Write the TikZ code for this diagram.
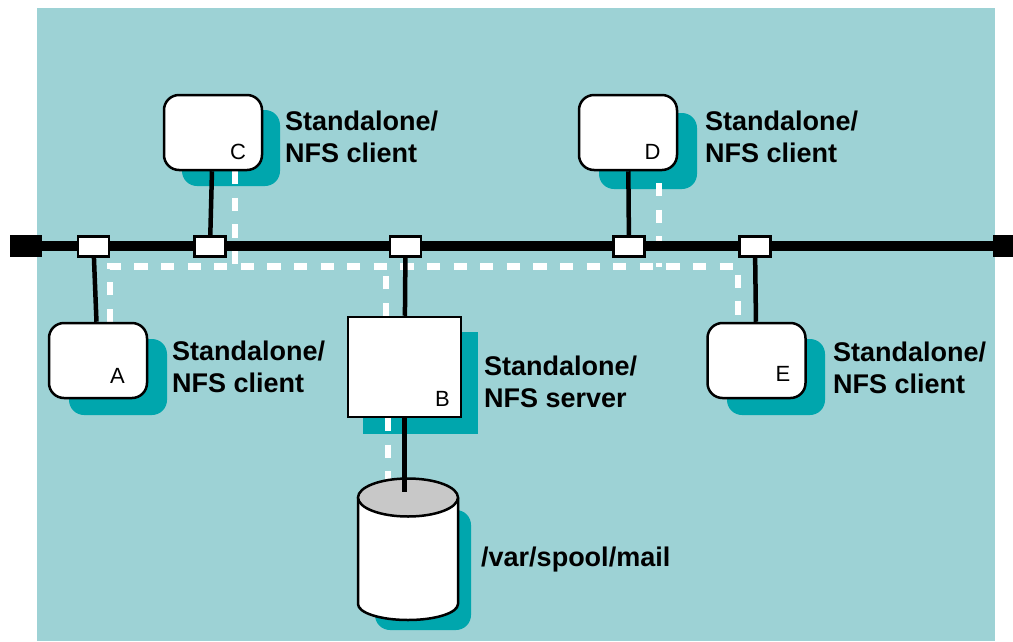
\documentclass[tikz,border=0pt]{standalone}
\usepackage{fontspec}
\setmainfont{Liberation Sans}
\usetikzlibrary{positioning}

\definecolor{seafoam}{HTML}{9DD2D5}
\definecolor{shadowteal}{HTML}{00A6AD}
\definecolor{platter}{HTML}{C8C8C8}

\tikzset{
  host/.style={draw,line width=2.5pt,fill=white,rounded corners=15pt,minimum width=98pt,minimum height=75pt,inner sep=0pt},
  hostshadow/.style={fill=shadowteal,rounded corners=15pt,minimum width=98pt,minimum height=76pt,inner sep=0pt},
  tap/.style={draw,line width=2.5pt,fill=white,minimum width=31pt,minimum height=20pt,inner sep=0pt},
  stub/.style={draw,line width=4.5pt},
  nfslink/.style={draw=white,line width=6.5pt,dash pattern=on 13.3pt off 13.3pt},
  caption/.style={font=\bfseries\fontsize{27}{32}\selectfont,align=left,anchor=west,inner sep=0pt},
  letter/.style={font=\fontsize{22}{22}\selectfont,inner sep=0pt}
}

\begin{document}
\begin{tikzpicture}[x=1pt,y=-1pt]

  \useasboundingbox (0,0) rectangle (1013,641);
  \fill[seafoam] (37,8) rectangle (995,641);

  % shadows
  \begin{scope}[every node/.style={hostshadow}]
    \node (shA) at (118,377) {};
    \node (shC) at (231,148) {};
    \node (shD) at (648,151) {};
    \node (shE) at (776,377) {};
  \end{scope}
  \node[fill=shadowteal,minimum width=115pt,minimum height=102pt,inner sep=0pt] (shB) at (420.5,383) {};
  \fill[shadowteal,rounded corners=15pt] (375,510) rectangle (471,630);

  % nfs traffic
  \coordinate (wa) at (110,322);
  \coordinate (wc) at (235,171);
  \coordinate (wd) at (659,183);
  \coordinate (we) at (738,322);
  \coordinate (wb) at (386,316);
  \coordinate (wb2) at (388,418);
  \coordinate (wm) at (388,487);
  \path[nfslink] (wa) -- (110,266.5) -- (738,266.5) -- (we);
  \path[nfslink] (wc) -- (235,266.5);
  \path[nfslink] (wd) -- (659,266.5);
  \path[nfslink] (wb) -- (386,266.5);

  % bus
  \node[fill=black,minimum width=32pt,minimum height=22pt,inner sep=0pt] (termL) at (26,246) {};
  \node[fill=black,minimum width=20pt,minimum height=22pt,inner sep=0pt] (termR) at (1003,246) {};
  \draw[line width=10pt] (termL) -- (termR);

  \begin{scope}[every node/.style={tap}]
    \node (tapA) at (93.5,246.5) {};
    \node (tapC) at (210,246.5) {};
    \node (tapB) at (405.5,246.5) {};
    \node (tapD) at (629,246.5) {};
    \node (tapE) at (755,246.5) {};
  \end{scope}

  % hosts
  \begin{scope}[every node/.style={host}]
    \node (A) at (98,360.5) {};
    \node (C) at (213,132.5) {};
    \node (D) at (628,132.5) {};
    \node (E) at (756.5,360.5) {};
  \end{scope}
  \node[draw,line width=2.5pt,fill=white,minimum width=113pt,minimum height=100pt,inner sep=0pt] (B) at (404.5,367) {};

  \path[stub] (tapA) -- (A);
  \path[stub] (tapC) -- (C);
  \path[stub] (tapD) -- (D);
  \path[stub] (tapE) -- (E);
  \path[stub] (tapB) -- (B);

  \path[nfslink] (wb2) -- (wm);

  % disk
  \draw[line width=2.5pt,fill=white] (358,497.5) -- (358,604) arc[start angle=180,end angle=360,x radius=50,y radius=-16] -- (458,497.5);
  \draw[line width=2.5pt,fill=platter] (408,497.5) ellipse[x radius=50,y radius=19];
  \node[inner sep=0pt,minimum size=0pt] (disk) at (404.5,492) {};
  \draw[line width=4.5pt] (B) -- (disk);

  % labels
  \node[letter] (lA) at (117.5,376) {A};
  \node[letter] (lB) at (442.5,399) {B};
  \node[letter] (lC) at (238,152) {C};
  \node[letter] (lD) at (652.5,152) {D};
  \node[letter] (lE) at (783,374) {E};

  \node[caption] (capA) at (172,367) {Standalone/\\NFS client};
  \node[caption] (capB) at (484,382) {Standalone/\\NFS server};
  \node[caption] (capC) at (285,137) {Standalone/\\NFS client};
  \node[caption] (capD) at (705,137) {Standalone/\\NFS client};
  \node[caption] (capE) at (833,368) {Standalone/\\NFS client};
  \node[caption] (capM) at (481,560) {/var/spool/mail};

\end{tikzpicture}
\end{document}
